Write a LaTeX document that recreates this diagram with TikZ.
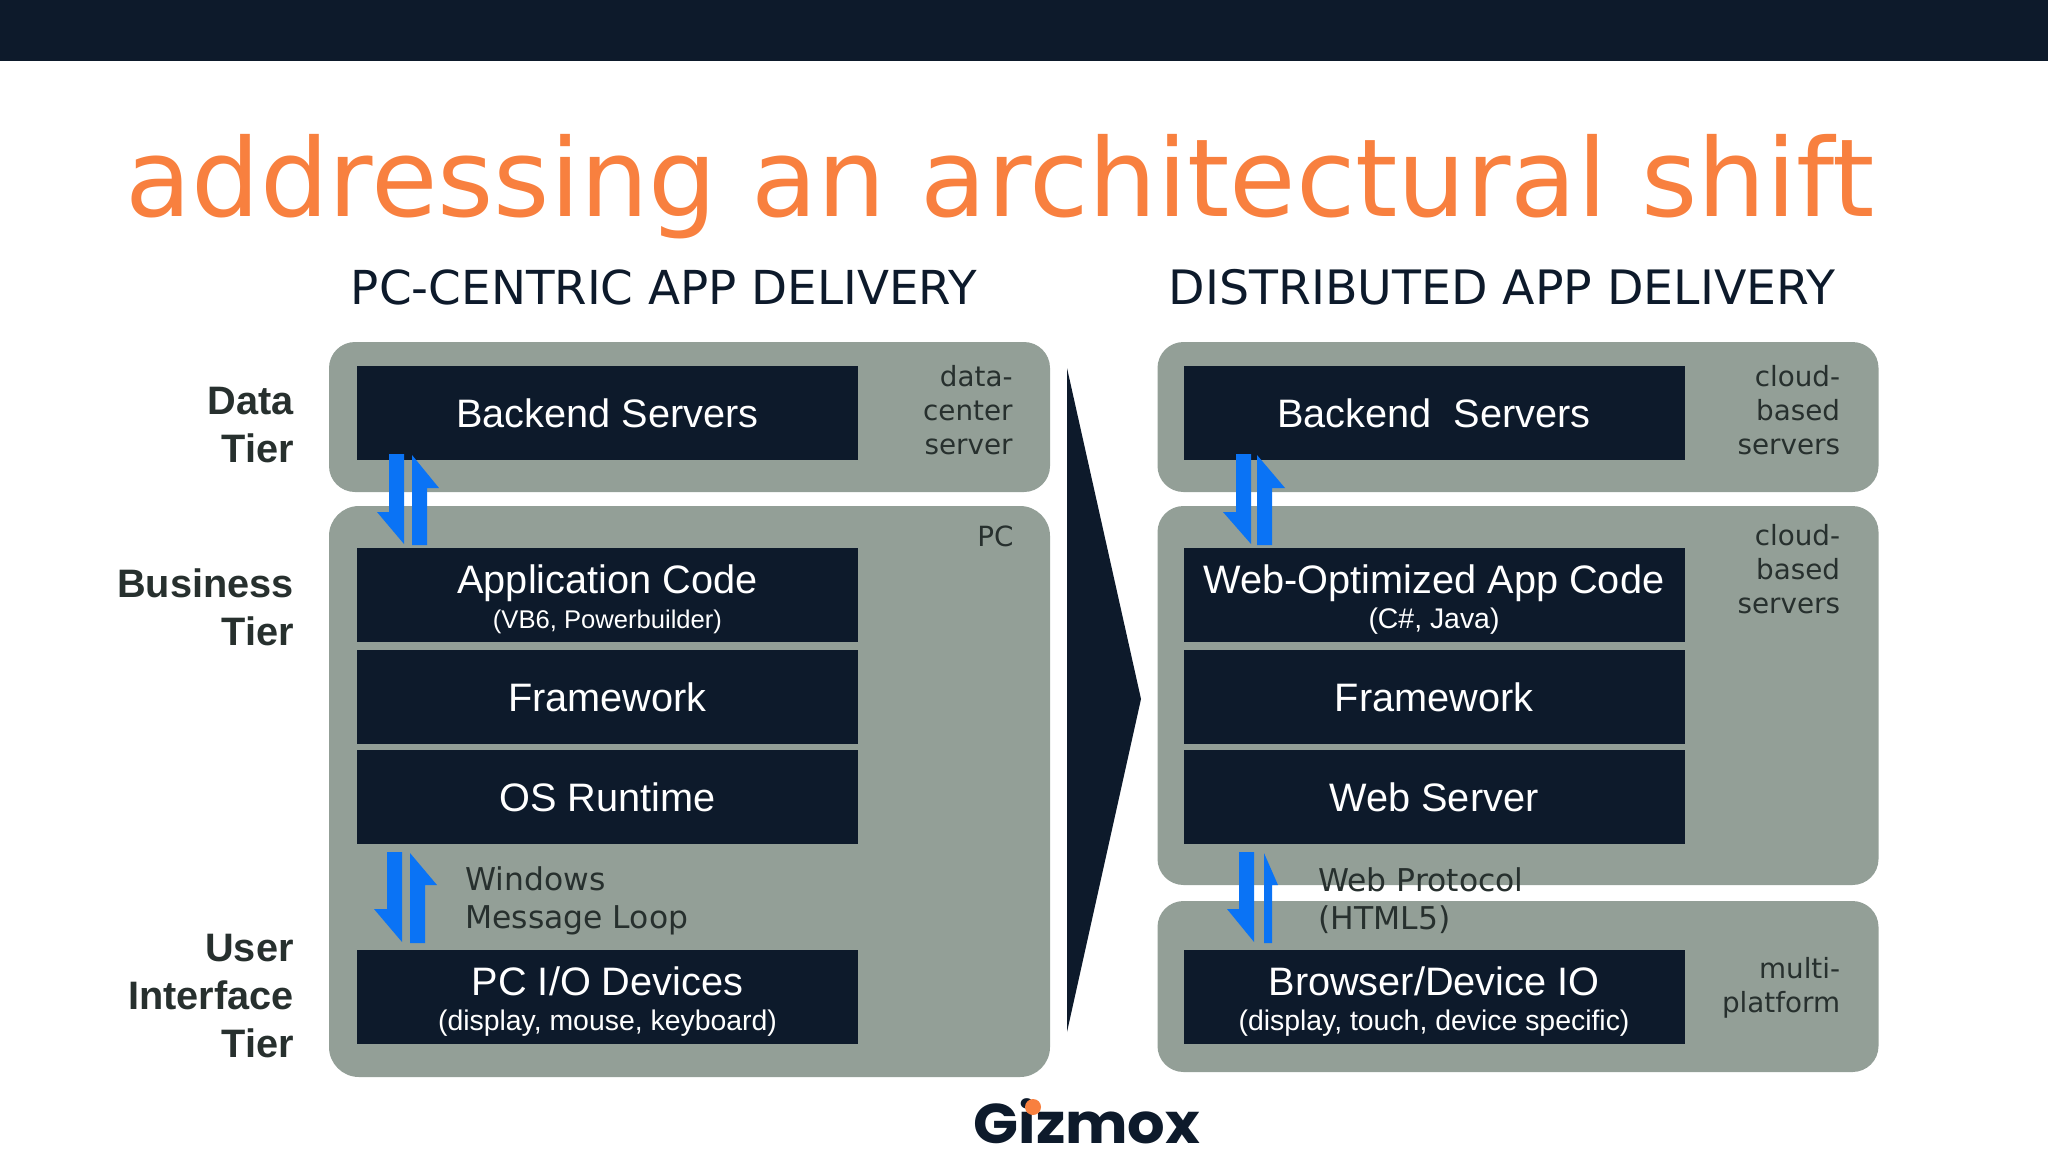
\documentclass[tikz,border=0pt]{standalone}
\usepackage{fontspec}
\setmainfont{Liberation Sans}
\newfontfamily\headfont{DejaVu Sans}
\newfontfamily\logofont{Poppins}
\usepackage{tikz}
\usetikzlibrary{positioning}
\definecolor{navy}{HTML}{0D1A2B}
\definecolor{slate}{HTML}{939F97}
\definecolor{flame}{HTML}{F8803F}
\definecolor{flow}{HTML}{0A73F5}
\definecolor{ink}{HTML}{27302E}
\tikzset{
  panel/.style = {fill=slate, inner sep=0pt, rounded corners=13pt, minimum width=360.5pt},
  box/.style   = {fill=navy, text=white, inner sep=0pt, align=center, minimum width=250.5pt,
                  minimum height=47pt, font=\fontsize{19.85}{21}\selectfont},
  head/.style  = {text=navy, inner sep=0pt, anchor=base, font=\headfont\fontsize{23.4}{28}\selectfont},
  tier/.style  = {text=ink, inner sep=0pt, anchor=east, align=right,
                  font=\bfseries\fontsize{19.85}{24}\selectfont},
  note/.style  = {text=ink, inner sep=0pt, anchor=north east, align=right,
                  font=\headfont\fontsize{13.9}{17}\selectfont},
  flowtext/.style = {text=ink, inner sep=0pt, anchor=west, align=left,
                  font=\headfont\fontsize{15.7}{19}\selectfont},
  blockarrow/.style = {fill=flow}
}
\newcommand{\subtxt}[2][14.2]{{\fontsize{#1}{15}\selectfont #2}}
\newcommand{\drop}{\rule{0pt}{19.4pt}}

\begin{document}
\begin{tikzpicture}[x=0.5pt,y=-0.5pt]
  \useasboundingbox (0,0) rectangle (2048,1152);
  \fill[navy] (0,0) rectangle (2048,61);
  \node[inner sep=0pt, anchor=base, text=flame, font=\headfont\fontsize{54.05}{60}\selectfont]
    (title) at (1000,216) {addressing an architectural shift};
  \node[head] (lefthead) at (664,304) {PC-CENTRIC APP DELIVERY};
  \node[head, font=\headfont\fontsize{23.7}{28}\selectfont] (righthead) at (1502,304) {DISTRIBUTED APP DELIVERY};

  % panels
  \node[panel, minimum height=75pt] (Ldata) at (689.5,417) {};
  \node[panel, minimum height=285.5pt, rounded corners=15pt] (Lpc) at (689.5,791.5) {};
  \node[panel, minimum height=75pt] (Rdata) at (1518,417) {};
  \node[panel, minimum height=189.5pt] (Rbiz) at (1518,695.5) {};
  \node[panel, minimum height=85.5pt] (Rui) at (1518,986.5) {};

  % shift wedge
  \fill[navy] (1067,368) -- (1141,699) -- (1067,1032) -- cycle;

  % left stack
  \node[box] (Lback) at (607.5,413) {Backend Servers};
  \node[box] (Lapp) at (607.5,594.5) {\drop Application Code\\[-3.5pt]\subtxt[12.8]{(VB6, Powerbuilder)}};
  \node[box] (Lfw) at (607.5,697) {Framework};
  \node[box] (Los) at (607.5,797) {OS Runtime};
  \node[box] (Lio) at (607.5,996.5) {\drop PC I/O Devices\\[-3.5pt]\subtxt{(display, mouse, keyboard)}};

  % right stack
  \node[box] (Rback) at (1434,413) {Backend\ \ Servers};
  \node[box] (Rapp) at (1434,594.5) {\drop Web-Optimized App Code\\[-3.5pt]\subtxt{(C\#, Java)}};
  \node[box] (Rfw) at (1434,697) {Framework};
  \node[box] (Rweb) at (1434,797) {Web Server};
  \node[box] (Rio) at (1434,996.5) {\drop Browser/Device IO\\[-3.5pt]\subtxt{(display, touch, device specific)}};

  % block arrows
  \fill[blockarrow] (389,454) -- (404,454) -- (404,544) -- (377,512) -- (389,512) -- cycle;
  \fill[blockarrow] (427,545) -- (412,545) -- (412,455) -- (439,488) -- (427,488) -- cycle;
  \fill[blockarrow] (387,852) -- (402,852) -- (402,942) -- (374,909) -- (387,909) -- cycle;
  \fill[blockarrow] (425,943) -- (410,943) -- (410,853) -- (437,885) -- (425,885) -- cycle;
  \fill[blockarrow] (1236,454) -- (1251,454) -- (1251,544) -- (1223,512) -- (1236,512) -- cycle;
  \fill[blockarrow] (1272,545) -- (1257,545) -- (1257,455) -- (1285,488) -- (1272,488) -- cycle;
  \fill[blockarrow] (1239,852) -- (1254,852) -- (1254,942) -- (1227,909) -- (1239,909) -- cycle;
  \fill[blockarrow] (1272,943) -- (1264,943) -- (1264,853) -- (1278,885) -- (1272,885) -- cycle;

  % tier labels
  \node[tier] (datatier) at (294,425) {Data\\Tier};
  \node[tier] (biztier) at (294,607) {Business\\Tier};
  \node[tier] (uitier) at (294,996.5) {User\\Interface\\Tier};

  % side notes
  \node[note] (n1) at (1013,365) {data-\\center\\server};
  \node[note] (n2) at (1014,525) {PC};
  \node[note] (n3) at (1840.5,365) {cloud-\\based\\servers};
  \node[note] (n4) at (1840.5,524) {cloud-\\based\\servers};
  \node[note] (n5) at (1840.5,957) {multi-\\platform};
  \node[flowtext] (winloop) at (465,901) {Windows\\Message Loop};
  \node[flowtext] (webproto) at (1318,901) {Web Protocol\\(HTML5)};

  % logo
  \node[inner sep=0pt, anchor=base, text=navy, xscale=1.055,
        font=\logofont\bfseries\fontsize{28}{30}\selectfont] (logo) at (1087,1143) {Gizmox};
  \node[circle, fill=flame, inner sep=0pt, minimum size=8pt] (logodot) at (1033,1107) {};
\end{tikzpicture}
\end{document}
